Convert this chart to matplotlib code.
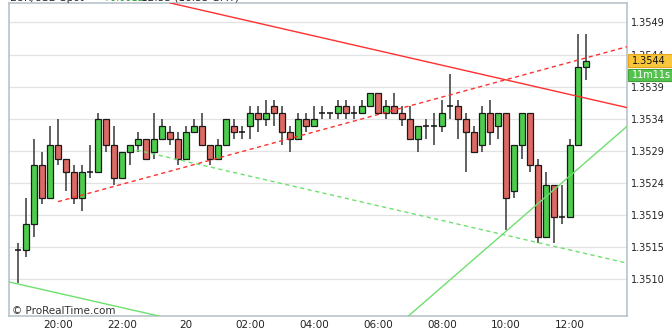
import matplotlib
matplotlib.use("Agg")
import matplotlib.pyplot as plt
import matplotlib.transforms as mtransforms
from matplotlib.patches import Rectangle

# 15 minute EUR/USD candles, 18:45 -> 12:30
opens = [1.3514, 1.3514, 1.3518, 1.3527, 1.3522, 1.3530, 1.3528, 1.3526, 1.3522, 1.3526,
         1.3526, 1.3534, 1.3530, 1.3525, 1.3529, 1.3530, 1.3531, 1.3529, 1.3531, 1.3532,
         1.3531, 1.3528, 1.3532, 1.3533, 1.3530, 1.3528, 1.3530, 1.3533, 1.3532, 1.3533,
         1.3535, 1.3534, 1.3536, 1.3535, 1.3532, 1.3531, 1.3534, 1.3533, 1.3535, 1.3535,
         1.3535, 1.3536, 1.3535, 1.3535, 1.3536, 1.3538, 1.3535, 1.3536, 1.3535, 1.3534,
         1.3531, 1.3533, 1.3533, 1.3533, 1.3536, 1.3536, 1.3534, 1.3532, 1.3530, 1.3535,
         1.3533, 1.3535, 1.3523, 1.3530, 1.3535, 1.3527, 1.3516, 1.3524, 1.3519, 1.3519,
         1.3530, 1.3542]
highs = [1.3515, 1.3522, 1.3531, 1.3529, 1.3533, 1.3534, 1.3528, 1.3527, 1.3527, 1.3530,
         1.3535, 1.3534, 1.3533, 1.3529, 1.3530, 1.3532, 1.3531, 1.3535, 1.3534, 1.3533,
         1.3532, 1.3533, 1.3534, 1.3535, 1.3530, 1.3531, 1.3534, 1.3534, 1.3533, 1.3536,
         1.3536, 1.3537, 1.3537, 1.3536, 1.3533, 1.3535, 1.3535, 1.3536, 1.3536, 1.3535,
         1.3537, 1.3537, 1.3536, 1.3537, 1.3538, 1.3538, 1.3537, 1.3538, 1.3536, 1.3536,
         1.3533, 1.3534, 1.3535, 1.3537, 1.3541, 1.3537, 1.3535, 1.3533, 1.3536, 1.3537,
         1.3535, 1.3535, 1.3530, 1.3535, 1.3535, 1.3528, 1.3526, 1.3524, 1.3524, 1.3531,
         1.3547, 1.3547]
lows = [1.3509, 1.3513, 1.3516, 1.3521, 1.3522, 1.3527, 1.3523, 1.3521, 1.3520, 1.3525,
        1.3526, 1.3529, 1.3524, 1.3525, 1.3527, 1.3529, 1.3528, 1.3528, 1.3531, 1.3530,
        1.3527, 1.3528, 1.3532, 1.3530, 1.3527, 1.3528, 1.3530, 1.3531, 1.3531, 1.3531,
        1.3532, 1.3533, 1.3533, 1.3530, 1.3529, 1.3531, 1.3532, 1.3533, 1.3534, 1.3534,
        1.3534, 1.3534, 1.3534, 1.3535, 1.3536, 1.3535, 1.3534, 1.3535, 1.3533, 1.3531,
        1.3529, 1.3531, 1.3530, 1.3532, 1.3534, 1.3531, 1.3526, 1.3529, 1.3529, 1.3530,
        1.3531, 1.3517, 1.3522, 1.3528, 1.3526, 1.3515, 1.3516, 1.3515, 1.3518, 1.3519,
        1.3530, 1.3540]
closes = [1.3514, 1.3518, 1.3527, 1.3522, 1.3530, 1.3528, 1.3526, 1.3522, 1.3526, 1.3526,
          1.3534, 1.3530, 1.3525, 1.3529, 1.3530, 1.3531, 1.3528, 1.3531, 1.3533, 1.3531,
          1.3528, 1.3532, 1.3533, 1.3530, 1.3528, 1.3530, 1.3534, 1.3532, 1.3532, 1.3535,
          1.3534, 1.3535, 1.3535, 1.3532, 1.3531, 1.3534, 1.3533, 1.3534, 1.3535, 1.3535,
          1.3536, 1.3535, 1.3535, 1.3536, 1.3538, 1.3535, 1.3536, 1.3535, 1.3534, 1.3531,
          1.3533, 1.3533, 1.3533, 1.3535, 1.3536, 1.3534, 1.3532, 1.3529, 1.3535, 1.3532,
          1.3535, 1.3522, 1.3530, 1.3535, 1.3527, 1.3516, 1.3524, 1.3519, 1.3519, 1.3530,
          1.3542, 1.3543]

# x tick positions (bar index) and labels
xtick_pos = [5, 13, 21, 29, 37, 45, 53, 61, 69]
xtick_labels = ["20:00", "22:00", "20", "02:00", "04:00", "06:00", "08:00", "10:00", "12:00"]

ytick_vals = [1.35095, 1.35144, 1.35193, 1.35243, 1.35292, 1.35341, 1.35390, 1.35439, 1.35489]
ytick_labels = ["1.3510", "1.3515", "1.3519", "1.3524", "1.3529", "1.3534", "1.3539", "1.3544", "1.3549"]

# trend lines: two anchor points each (bar index, price)
red_solid = [(19.4, 1.35517), (76.1, 1.35358)]
green_solid_low = [(-1.1, 1.35091), (17.6, 1.35039)]
green_solid_up = [(48.8, 1.35039), (76.1, 1.35329)]
red_dashed = [(5.0, 1.35214), (76.1, 1.35451)]
green_dashed = [(14.8, 1.35293), (76.1, 1.35120)]

last_label = "1.3544"
timer_label = "11m11s"

GREEN = "#4ccd4c"
RED = "#dc6a63"
LINE_RED = "#ff3030"
LINE_GREEN = "#6ee06e"

fig = plt.figure(figsize=(6.72, 3.31), dpi=100)
ax = fig.add_axes([9 / 672, 15 / 331, 618 / 672, 313 / 331])

# candles
for i in range(len(opens)):
    o, h, l, c = opens[i], highs[i], lows[i], closes[i]
    ax.vlines(i, l, h, color="#555555", lw=1.3, zorder=3)
    if o == c:
        ax.hlines(c, i - 0.4, i + 0.4, color="#111111", lw=1.1, zorder=4)
    else:
        col = GREEN if c > o else RED
        ax.bar(i, abs(c - o), bottom=min(o, c), width=0.78, color=col,
               edgecolor="#1a1a1a", lw=0.9, zorder=4)

# trend lines
ax.axline(red_solid[0], red_solid[1], color=LINE_RED, lw=1.0, zorder=5)
ax.axline(green_solid_low[0], green_solid_low[1], color=LINE_GREEN, lw=1.0, zorder=5)
ax.axline(green_solid_up[0], green_solid_up[1], color=LINE_GREEN, lw=1.0, zorder=5)
for pts, col in [(red_dashed, LINE_RED), (green_dashed, LINE_GREEN)]:
    (x0, y0), (x1, y1) = pts
    slope = (y1 - y0) / (x1 - x0)
    ax.plot([x0, 80], [y0, y0 + slope * (80 - x0)], color=col, lw=1.0,
            dashes=(3, 2.5), zorder=5)

ax.set_xlim(-1.125, 76.125)
ax.set_ylim(1.35039, 1.35518)

ax.set_xticks(xtick_pos)
ax.set_xticklabels(xtick_labels, fontsize=7.5, color="#222222")
ax.set_yticks(ytick_vals)
ax.set_yticklabels(ytick_labels, fontsize=7, color="#222222")
ax.yaxis.tick_right()
ax.tick_params(axis="both", length=0)
ax.tick_params(axis="x", pad=3)
ax.tick_params(axis="y", pad=3)
ax.grid(axis="y", color="#e2e2e2", lw=0.9)
ax.set_axisbelow(True)
for sp in ax.spines.values():
    sp.set_color("#b7c3cb")
    sp.set_linewidth(1.2)

# price / timer labels on the right
trans = mtransforms.blended_transform_factory(ax.transAxes, ax.transData)
box_h = 0.000184
last = closes[-1]
ax.add_patch(Rectangle((1.0016, last - box_h / 2), 0.075, box_h, transform=trans,
                       facecolor="#f8c63a", edgecolor="#e5a51c", lw=0.8,
                       clip_on=False, zorder=10))
ax.text(1.0075, last, last_label, transform=trans, fontsize=7, va="center",
        ha="left", color="#111111", zorder=11, clip_on=False)
tpos = last - 0.000219
ax.add_patch(Rectangle((1.0016, tpos - box_h / 2), 0.075, box_h, transform=trans,
                       facecolor="#55c24f", edgecolor="#3fa33a", lw=0.8,
                       clip_on=False, zorder=10))
ax.text(1.0075, tpos, timer_label, transform=trans, fontsize=7, va="center",
        ha="left", color="white", zorder=11, clip_on=False)

ax.text(3 / 618, 4.5 / 313, "\u00a9 ProRealTime.com", transform=ax.transAxes,
        fontsize=7.5, color="#333333", va="center", ha="left")

# header, mostly cut off by the top edge
hy = 1 - 1 / 331
fig.text(10 / 672, hy, "EUR/USD Spot", fontsize=7.5, va="baseline", color="#222222")
fig.text(102 / 672, hy, "+0.0013", fontsize=7, va="baseline", color="#2e9e2e")
fig.text(141 / 672, hy, "12:55 (16:55 GMT)", fontsize=7.5, va="baseline", color="#222222")

fig.savefig("out.png", dpi=100)
